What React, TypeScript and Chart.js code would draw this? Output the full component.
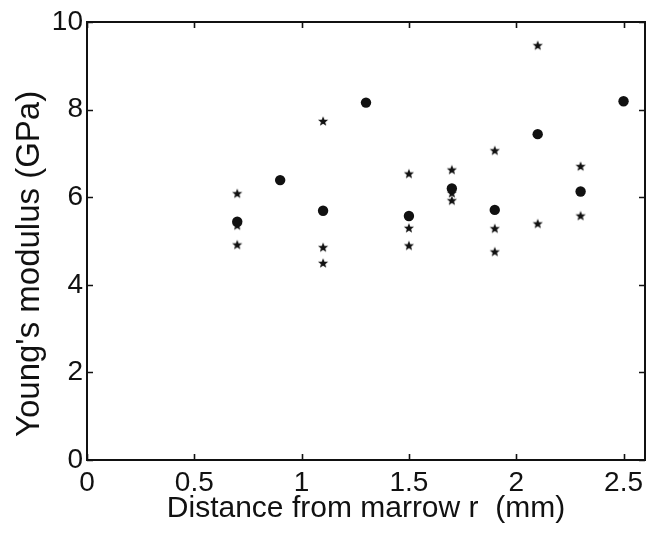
import React, { useEffect, useRef } from "react";
import { Chart, registerables } from "chart.js";

Chart.register(...registerables);

// Mean values (filled dots)
const dotX = [0.7, 0.9, 1.1, 1.3, 1.5, 1.7, 1.9, 2.1, 2.3, 2.5];
const dotY = [5.44, 6.39, 5.69, 8.16, 5.57, 6.2, 5.71, 7.44, 6.13, 8.19];

// Individual measurements (stars)
const starX = [0.7, 0.7, 0.7, 1.1, 1.1, 1.1, 1.5, 1.5, 1.5, 1.7, 1.7, 1.7, 1.9, 1.9, 1.9, 2.1, 2.1, 2.3, 2.3];
const starY = [6.09, 5.36, 4.92, 7.74, 4.86, 4.5, 6.54, 5.3, 4.9, 6.63, 6.1, 5.93, 7.07, 5.29, 4.76, 9.47, 5.4, 6.71, 5.58];

const xTicks = [0, 0.5, 1, 1.5, 2, 2.5];
const yTicks = [0, 2, 4, 6, 8, 10];
const xTitle = "Distance from marrow r  (mm)";
const yTitle = "Young's modulus (GPa)";

const INK = "#111111";
const FONT = "'Liberation Sans', Arial, sans-serif";

function makeStar(): HTMLCanvasElement {
  const c = document.createElement("canvas");
  const s = 12;
  c.width = s;
  c.height = s;
  const ctx = c.getContext("2d")!;
  const cx = s / 2, cy = s / 2 + 0.5;
  const ro = 5.3, ri = 2.3;
  ctx.beginPath();
  for (let i = 0; i < 10; i++) {
    const r = i % 2 === 0 ? ro : ri;
    const a = -Math.PI / 2 + (i * Math.PI) / 5;
    const px = cx + r * Math.cos(a);
    const py = cy + r * Math.sin(a);
    if (i === 0) ctx.moveTo(px, py);
    else ctx.lineTo(px, py);
  }
  ctx.closePath();
  ctx.fillStyle = INK;
  ctx.fill();
  return c;
}

const boxPlugin = {
  id: "matlabBox",
  afterDraw(chart: any) {
    const { ctx, chartArea: a, scales } = chart;
    const xs = scales.x, ys = scales.y;
    ctx.save();
    ctx.strokeStyle = INK;
    ctx.lineWidth = 1.6;
    const tl = 6;
    ctx.beginPath();
    xTicks.forEach((v) => {
      const p = Math.round(xs.getPixelForValue(v)) + 0.5;
      ctx.moveTo(p, a.bottom);
      ctx.lineTo(p, a.bottom - tl);
      ctx.moveTo(p, a.top);
      ctx.lineTo(p, a.top + tl);
    });
    yTicks.forEach((v) => {
      const p = Math.round(ys.getPixelForValue(v)) + 0.5;
      ctx.moveTo(a.left, p);
      ctx.lineTo(a.left + tl, p);
      ctx.moveTo(a.right, p);
      ctx.lineTo(a.right - tl, p);
    });
    ctx.stroke();
    ctx.lineWidth = 2;
    ctx.strokeRect(a.left, a.top, a.right - a.left, a.bottom - a.top);
    ctx.restore();
  },
};

export default function App() {
  const ref = useRef<HTMLCanvasElement | null>(null);

  useEffect(() => {
    document.body.style.margin = "0";
    const canvas = ref.current!;
    const star = makeStar();
    const chart = new Chart(canvas, {
      type: "scatter",
      data: {
        datasets: [
          {
            label: "mean",
            data: dotX.map((x, i) => ({ x, y: dotY[i] })),
            pointStyle: "circle",
            pointRadius: 5.2,
            backgroundColor: INK,
            borderColor: INK,
            borderWidth: 0,
          },
          {
            label: "samples",
            data: starX.map((x, i) => ({ x, y: starY[i] })),
            pointStyle: star,
            pointRadius: 5,
            backgroundColor: INK,
            borderColor: INK,
          },
        ],
      },
      options: {
        responsive: false,
        animation: false,
        events: [],
        layout: { padding: { top: 22, right: 13, left: 0, bottom: 0 } },
        plugins: {
          legend: { display: false },
          tooltip: { enabled: false },
        },
        scales: {
          x: {
            type: "linear",
            min: 0,
            max: 2.6,
            grid: { display: false, drawTicks: false },
            border: { display: false },
            afterBuildTicks: (s: any) => {
              s.ticks = xTicks.map((v) => ({ value: v }));
            },
            afterFit: (s: any) => {
              s.height = 76;
            },
            ticks: {
              color: INK,
              padding: 9,
              maxRotation: 0,
              font: { family: FONT, size: 28, lineHeight: 1 },
              callback: (v: any) => String(v),
            },
            title: {
              display: true,
              text: xTitle,
              color: INK,
              font: { family: FONT, size: 30, lineHeight: 1 },
              padding: { top: 0, bottom: 12 },
            },
          },
          y: {
            type: "linear",
            min: 0,
            max: 10,
            grid: { display: false, drawTicks: false },
            border: { display: false },
            afterBuildTicks: (s: any) => {
              s.ticks = yTicks.map((v) => ({ value: v }));
            },
            afterFit: (s: any) => {
              s.width = 87;
            },
            ticks: {
              color: INK,
              padding: 4,
              font: { family: FONT, size: 28, lineHeight: 1 },
              callback: (v: any) => String(v),
            },
            title: {
              display: true,
              text: yTitle + "     ",
              color: INK,
              font: { family: FONT, size: 33, lineHeight: 1 },
              padding: { top: 13, bottom: 0 },
            },
          },
        },
      },
      plugins: [boxPlugin],
    });
    return () => chart.destroy();
  }, []);

  return (
    <div style={{ position: "relative", width: 658, height: 536, background: "#fff" }}>
      <canvas ref={ref} width={658} height={536} style={{ display: "block" }} />
    </div>
  );
}
